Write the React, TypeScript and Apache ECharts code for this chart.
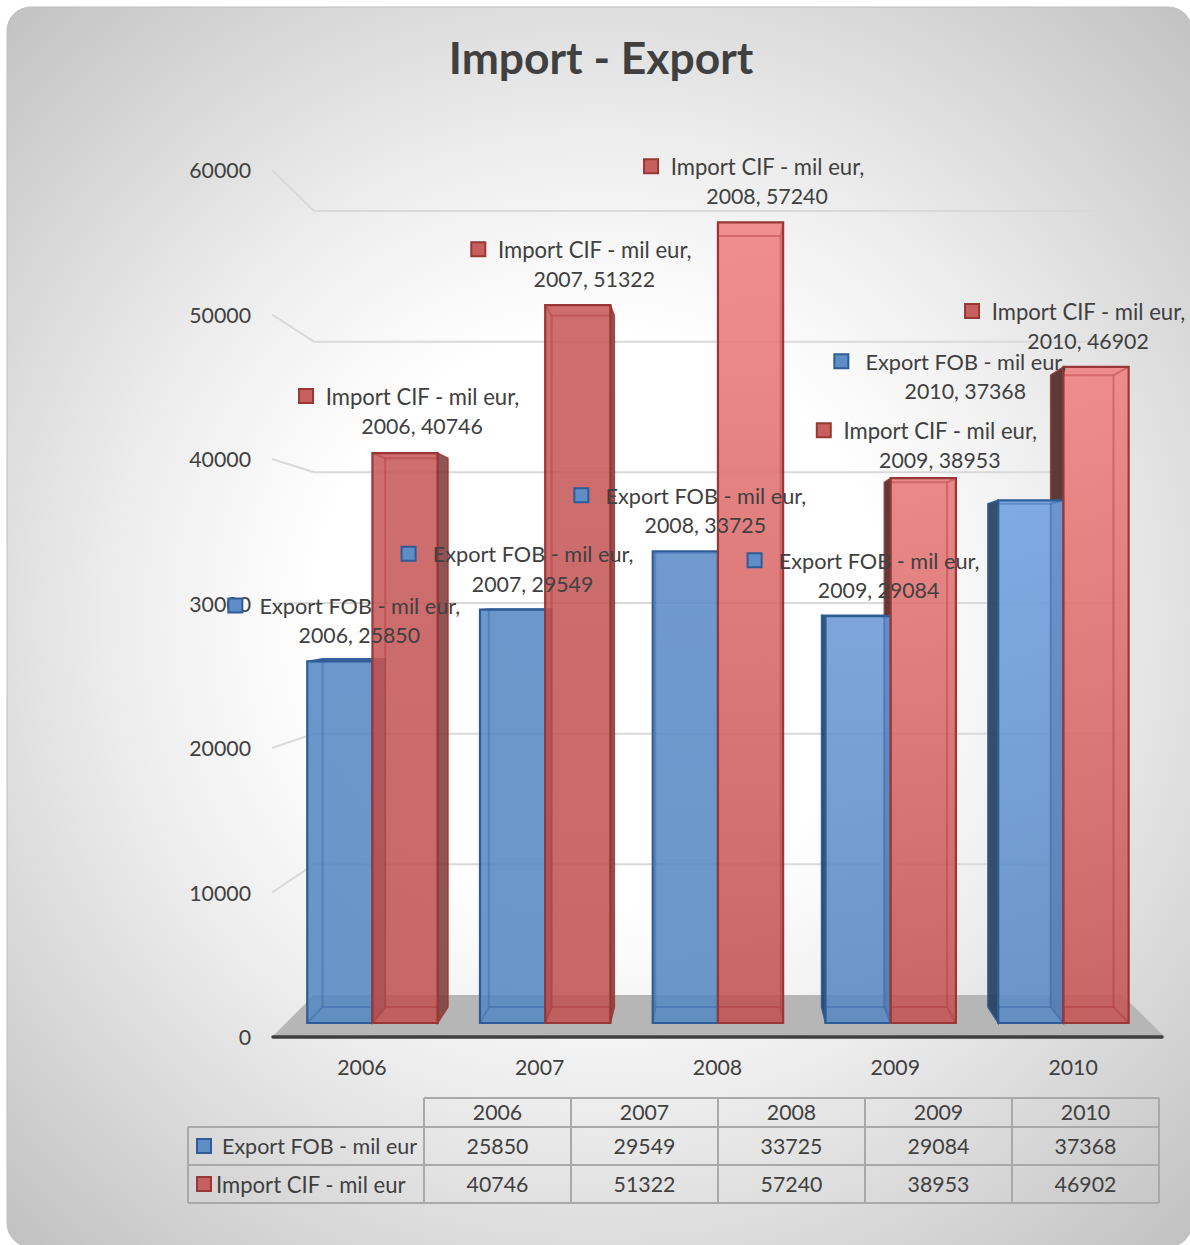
import React, { useEffect, useRef } from "react";
import * as echarts from "echarts";

const years = ["2006", "2007", "2008", "2009", "2010"];
const exportFob = [25850, 29549, 33725, 29084, 37368];
const importCif = [40746, 51322, 57240, 38953, 46902];
const exportName = "Export FOB - mil eur";
const importName = "Import CIF - mil eur";
const ticks = [10000, 20000, 30000, 40000, 50000, 60000];

const FONT = "Lato";
const TEXT = "#404040";
const NUM_SIZE = 21.3;
const EXPORT_SIZE = 21.7;
const IMPORT_SIZE = 22.1;

// projection: axis plane -> bar front plane -> bar back plane -> wall
const AX_LEFT = 273, AX_WIDTH = 889, AX_TOP = 170, AX_BASE = 1037;
const barX = (x: number) => 717.5 + (x - 717.05) * 0.9716;
const barY = (y: number) => 1023 + (y - AX_BASE) * 0.968;
const VX = 718, VY = 592, DEPTH = 0.963;
const backX = (x: number) => VX + (x - VX) * DEPTH;
const backY = (y: number) => VY + (y - VY) * DEPTH;
const wallY = (y: number) => 995 + (y - AX_BASE) * 0.9043;
const BAR_W = 65.2;

const redTop = ["#c85a5a", "#c85a5a", "#f07f7f", "#e87979", "#f08080"];
const redBottom = ["#c05353", "#c05353", "#be5151", "#c25353", "#c55555"];
const blueTop = ["#5688c4", "#5688c4", "#5c8cc9", "#6b99d6", "#70a1e0"];
const blueBottom = ["#5688c2", "#5688c2", "#5688c2", "#5888c2", "#5a8ac4"];

const RED = { top: redTop, bottom: redBottom, edge: "#983836", inner: "rgba(170,50,50,0.38)", outer: "#4f2a28", outerRight: "#7d3f3e", roof: "#8d3c3a", key: "#c85f5f" };
const BLUE = { top: blueTop, bottom: blueBottom, edge: "#2e5c97", inner: "rgba(45,95,165,0.38)", outer: "#25405f", outerRight: "#25405f", roof: "#30609c", key: "#5f8dc6" };

// data-label placement relative to the bar's top
const blueLabelDx = [20, 20.5, 20.5, 21, -65];
const blueLabelDy = [-55, -55, -55, -55, -138];
const redLabelDx = [17.5, 17, 17, 17, -7.5];
const redLabelDy = [-56, -55, -55, -47, -55];

const poly = (points: number[][], style: any) => ({ type: "polygon", shape: { points }, style });
const seg = (x1: number, y1: number, x2: number, y2: number, stroke: string, lineWidth = 2) => ({
  type: "line", shape: { x1, y1, x2, y2 }, style: { stroke, lineWidth },
});

function barFrame(api: any, side: number) {
  const i = api.value(0);
  const p = api.coord([i, api.value(1)]);
  const o = api.coord([i, 0]);
  const cx = barX(p[0]) + side * (BAR_W / 2);
  const x0 = cx - BAR_W / 2, x1 = cx + BAR_W / 2;
  return { i, cx, x0, x1, yTop: barY(p[1]), yBase: barY(o[1]) };
}

function backSeries(name: string, values: number[], pal: any, side: number, z: number) {
  return {
    type: "custom", name, z, silent: true, clip: false,
    data: values.map((v, i) => [i, v]), encode: { x: 0, y: 1 },
    renderItem: (_: any, api: any) => {
      const { x0, x1, yTop, yBase } = barFrame(api, side);
      const bx0 = backX(x0), bx1 = backX(x1), byT = backY(yTop), byB = backY(yBase);
      const leftOut = bx0 < x0 - 0.5 && x0 > VX;
      const rightOut = bx1 > x1 + 0.5 && x1 < VX;
      const children: any[] = [];
      if (leftOut) {
        children.push(poly([[x0, yTop], [bx0, byT], [bx0, byB], [x0, yBase]], { fill: pal.outer, stroke: pal.edge, lineWidth: 1.5, opacity: 0.92 }));
      }
      if (rightOut) {
        children.push(poly([[x1, yTop], [bx1, byT], [bx1, byB], [x1, yBase]], { fill: pal.outerRight, stroke: pal.edge, lineWidth: 1.5, opacity: 0.88 }));
      }
      if (byT < yTop) {
        children.push(poly([[x0, yTop], [x1, yTop], [bx1, byT], [bx0, byT]], { fill: pal.roof, stroke: pal.edge, lineWidth: 1.5, opacity: 0.95 }));
      }
      return { type: "group", children };
    },
  };
}

function frontSeries(name: string, values: number[], pal: any, side: number, z: number) {
  return {
    type: "custom", name, z, silent: true, clip: false,
    data: values.map((v, i) => [i, v]), encode: { x: 0, y: 1 },
    renderItem: (_: any, api: any) => {
      const { i, x0, x1, yTop, yBase } = barFrame(api, side);
      const bx0 = backX(x0), bx1 = backX(x1), byT = backY(yTop), byB = backY(yBase);
      const ix0 = Math.max(x0, bx0), ix1 = Math.min(x1, bx1);
      const iT = Math.max(yTop, byT), iB = Math.min(yBase, byB);
      const children: any[] = [
        {
          type: "rect",
          shape: { x: x0, y: yTop, width: x1 - x0, height: yBase - yTop },
          style: {
            fill: { type: "linear", x: 0, y: 0, x2: 0, y2: 1, colorStops: [{ offset: 0, color: pal.top[i] }, { offset: 1, color: pal.bottom[i] }] },
            opacity: 0.88,
          },
        },
        seg(ix0, iB, ix1, iB, pal.inner),
        seg(x0, yBase, ix0, iB, pal.inner),
        seg(x1, yBase, ix1, iB, pal.inner),
      ];
      if (bx0 > x0 + 0.5) children.push(seg(bx0, iT, bx0, iB, pal.inner));
      if (bx1 < x1 - 0.5) children.push(seg(bx1, iT, bx1, iB, pal.inner));
      if (byT > yTop + 0.5) {
        children.push(seg(ix0, byT, ix1, byT, pal.inner));
        children.push(seg(x0, yTop, ix0, byT, pal.inner));
        children.push(seg(x1, yTop, ix1, byT, pal.inner));
      }
      children.push({
        type: "rect",
        shape: { x: x0, y: yTop, width: x1 - x0, height: yBase - yTop },
        style: { fill: "none", stroke: pal.edge, lineWidth: 2.2 },
      });
      return { type: "group", children };
    },
  };
}

function labelSeries(name: string, size: number, values: number[], pal: any, side: number, dx: number[], dy: number[], markerDx: number, z: number) {
  return {
    type: "custom", name: name + " labels", z, silent: true, clip: false,
    data: values.map((v, i) => [i, v]), encode: { x: 0, y: 1 },
    renderItem: (_: any, api: any) => {
      const { i, cx, yTop } = barFrame(api, side);
      const lx = cx + dx[i], ly = yTop + dy[i];
      return {
        type: "group",
        children: [
          { type: "rect", shape: { x: lx + markerDx - 7, y: ly - 8, width: 14, height: 14 }, style: { fill: pal.key, stroke: pal.edge, lineWidth: 2 } },
          { type: "text", style: { text: `${name},`, x: lx, y: ly - 0.5, align: "center", verticalAlign: "middle", font: `${size}px ${FONT}`, fill: TEXT } },
          { type: "text", style: { text: `${years[i]}, ${values[i]}`, x: lx - 0.5, y: ly + 29, align: "center", verticalAlign: "middle", font: `${NUM_SIZE}px ${FONT}`, fill: TEXT } },
        ],
      };
    },
  };
}

const wallSeries = {
  type: "custom", name: "wall", z: 1, silent: true, clip: false,
  data: ticks.map((t) => [0, t]), encode: { x: 0, y: 1 },
  renderItem: (_: any, api: any) => {
    const y = api.coord([0, api.value(1)])[1];
    return {
      type: "polyline",
      shape: { points: [[272, y], [314, wallY(y)], [1122, wallY(y)]] },
      style: { fill: "none", stroke: "#d9d9d9", lineWidth: 2 },
    };
  },
};

const tableX = [424, 571, 718, 865, 1012, 1159];
const tableY = [1098, 1127, 1165, 1203];
const TABLE_LINE = "#a9a9a9";

function tableGraphics() {
  const out: any[] = [];
  const line = (x1: number, y1: number, x2: number, y2: number) =>
    out.push({ type: "line", z: 1, shape: { x1, y1, x2, y2 }, style: { stroke: TABLE_LINE, lineWidth: 2 } });
  line(424, tableY[0], 1159, tableY[0]);
  tableY.slice(1).forEach((y) => line(188, y, 1159, y));
  tableX.forEach((x) => line(x, tableY[0], x, tableY[3]));
  line(188, tableY[1], 188, tableY[3]);
  const txt = (text: string, x: number, y: number, size: number, align = "center") =>
    out.push({ type: "text", z: 2, style: { text, x, y, align, verticalAlign: "middle", font: `${size}px ${FONT}`, fill: TEXT } });
  years.forEach((yr, i) => {
    const cx = (tableX[i] + tableX[i + 1]) / 2;
    txt(yr, cx, 1112, NUM_SIZE);
    txt(String(exportFob[i]), cx, 1146, NUM_SIZE);
    txt(String(importCif[i]), cx, 1184, NUM_SIZE);
  });
  out.push({ type: "rect", z: 2, shape: { x: 197, y: 1139, width: 14, height: 14 }, style: { fill: BLUE.key, stroke: BLUE.edge, lineWidth: 2 } });
  out.push({ type: "rect", z: 2, shape: { x: 197, y: 1177, width: 14, height: 14 }, style: { fill: RED.key, stroke: RED.edge, lineWidth: 2 } });
  txt(exportName, 222, 1146, 21.5, "left");
  txt(importName, 216, 1184, IMPORT_SIZE, "left");
  return out;
}

export default function App() {
  const ref = useRef<HTMLDivElement>(null);
  useEffect(() => {
    document.body.style.margin = "0";
    document.body.style.overflow = "hidden";
    const chart = echarts.init(ref.current!, undefined, { renderer: "svg" });
    chart.setOption({
      animation: false,
      backgroundColor: "#fff",
      title: {
        text: "Import - Export", left: 596, top: 29, textAlign: "center",
        textStyle: { fontFamily: FONT, fontWeight: "bold", fontSize: 44.4, color: TEXT },
      },
      grid: { left: AX_LEFT, top: AX_TOP, width: AX_WIDTH, height: AX_BASE - AX_TOP },
      xAxis: {
        type: "category", data: years,
        axisLine: { lineStyle: { color: "#3f3f3f", width: 3.5 } },
        axisTick: { show: false },
        axisLabel: { fontFamily: FONT, fontSize: NUM_SIZE, color: TEXT, margin: 19 },
      },
      yAxis: {
        type: "value", min: 0, max: 60000, interval: 10000,
        axisLine: { show: false }, axisTick: { show: false }, splitLine: { show: false },
        axisLabel: { fontFamily: FONT, fontSize: NUM_SIZE, color: TEXT, margin: 22, formatter: (v: number) => String(v) },
      },
      graphic: [
        {
          type: "rect", z: -10, shape: { x: 7, y: 7, width: 1185, height: 1240, r: 24 },
          style: {
            stroke: "#bdbdbd", lineWidth: 1,
            fill: {
              type: "radial", x: 600, y: 620, r: 860, global: true,
              colorStops: [{ offset: 0, color: "#ffffff" }, { offset: 0.33, color: "#ffffff" }, { offset: 0.55, color: "#eeeeee" }, { offset: 1, color: "#c1c1c1" }],
            },
          },
        },
        { type: "polygon", z: 0, shape: { points: [[272, AX_BASE], [1165, AX_BASE], [1122, 995], [314, 995]] }, style: { fill: "#b6b6b6" } },
        ...tableGraphics(),
      ],
      series: [
        wallSeries,
        backSeries(exportName, exportFob, BLUE, -1, 3),
        backSeries(importName, importCif, RED, 1, 4),
        frontSeries(exportName, exportFob, BLUE, -1, 5),
        frontSeries(importName, importCif, RED, 1, 6),
        labelSeries(exportName, EXPORT_SIZE, exportFob, BLUE, -1, blueLabelDx, blueLabelDy, -124.5, 7),
        labelSeries(importName, IMPORT_SIZE, importCif, RED, 1, redLabelDx, redLabelDy, -116.5, 8),
      ],
    });
    return () => chart.dispose();
  }, []);
  return <div ref={ref} style={{ position: "absolute", left: 0, top: 0, width: 1190, height: 1245 }} />;
}
